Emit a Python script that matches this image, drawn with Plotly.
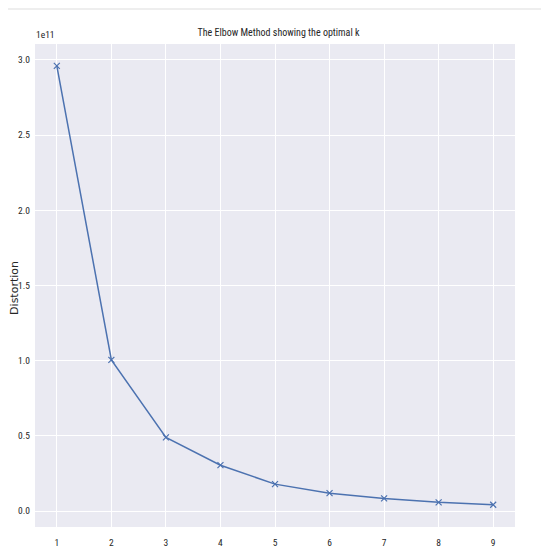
import plotly.graph_objects as go

k_values = [1, 2, 3, 4, 5, 6, 7, 8, 9]
distortions = [2.96e11, 1.005e11, 0.49e11, 0.305e11, 0.179e11, 0.119e11, 0.084e11, 0.058e11, 0.042e11]
y_tick_vals = [0.0, 0.5e11, 1.0e11, 1.5e11, 2.0e11, 2.5e11, 3.0e11]
y_tick_text = ["0.0", "0.5", "1.0", "1.5", "2.0", "2.5", "3.0"]

narrow = "Roboto Condensed, DejaVu Sans Condensed, sans-serif"

fig = go.Figure()
fig.add_trace(go.Scatter(
    x=k_values, y=distortions, mode="lines+markers",
    line=dict(color="#4C72B0", width=1.5),
    marker=dict(symbol="x-thin", size=6, color="#4C72B0", line=dict(color="#4C72B0", width=1.2)),
    showlegend=False,
))

fig.update_layout(
    width=541, height=542,
    margin=dict(l=27, r=34, t=36, b=23, autoexpand=False),
    paper_bgcolor="white", plot_bgcolor="#EAEAF2",
    title=dict(text="The Elbow Method showing the optimal k", x=0.5, xanchor="center",
               y=1 - 24/542, yanchor="middle",
               font=dict(family=narrow, size=10, color="#262626")),
    xaxis=dict(range=[0.6, 9.4], tickvals=k_values, ticktext=[str(k) for k in k_values],
               showgrid=True, gridcolor="white", gridwidth=1, zeroline=False, automargin=False,
               ticks="", ticklen=0, ticklabelstandoff=8,
               tickfont=dict(family=narrow, size=9.5, color="#262626"),
               showline=False),
    yaxis=dict(range=[-0.106e11, 3.106e11], tickvals=y_tick_vals, ticktext=y_tick_text,
               showgrid=True, gridcolor="white", gridwidth=1, zeroline=False, automargin=False,
               ticks="", ticklabelstandoff=4,
               tickfont=dict(family=narrow, size=9.5, color="#262626"),
               showline=False),
    shapes=[dict(type="line", xref="paper", yref="paper", x0=-0.06, x1=1.1, y0=1.0725, y1=1.0725,
                 line=dict(color="#EEEEEE", width=2))],
    annotations=[
        dict(text="1e11", xref="paper", yref="paper", x=0, y=1, xanchor="left", yanchor="bottom",
             xshift=-1, yshift=2, showarrow=False,
             font=dict(family=narrow, size=9.5, color="#262626")),
        dict(text="Distortion", xref="paper", yref="paper", x=-0.0417, y=0.495, textangle=-90,
             xanchor="center", yanchor="middle", showarrow=False,
             font=dict(family="DejaVu Sans", size=11, color="#262626")),
    ],
)

fig.write_html("out.html")
